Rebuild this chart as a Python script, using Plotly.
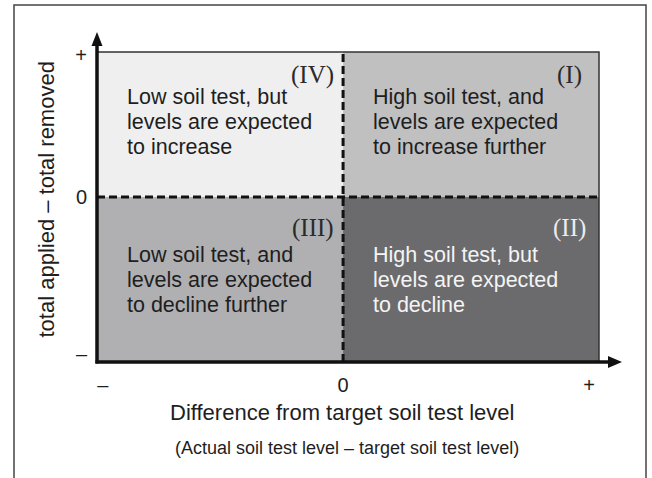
import plotly.graph_objects as go

# ---------------- data ----------------
x_edges = [-1.0, 0.0, 1.04]      # low end, target (0), high end of soil-test difference
y_edges = [-1.138, 0.0, 1.0]     # low end, balance (0), high end of applied - removed

quadrant_names = ["(IV)", "(I)", "(III)", "(II)"]
quadrant_cols = [0, 1, 0, 1]     # index into x_edges (left edge of the cell)
quadrant_rows = [1, 1, 0, 0]     # index into y_edges (bottom edge of the cell)
quadrant_fills = ["#efefef", "#c0c0c1", "#b0b0b2", "#6b6b6d"]
quadrant_text_colors = ["#1e1e1e", "#1e1e1e", "#1e1e1e", "#f4f4f4"]
quadrant_lines = [
    ["Low soil test, but", "levels are expected", "to increase"],
    ["High soil test, and", "levels are expected", "to increase further"],
    ["Low soil test, and", "levels are expected", "to decline further"],
    ["High soil test, but", "levels are expected", "to decline"],
]

x_tick_vals = [-0.976, 0.0, 1.0]
x_tick_text = ["\u2013", "0", "+"]
y_tick_vals = [-1.086, 0.0, 0.979]
y_tick_text = ["\u2013", "0", "+"]

x_title = "Difference from target soil test level"
x_subtitle = "(Actual soil test level \u2013 target soil test level)"
y_title = "total applied \u2013 total removed"

# ---------------- layout constants ----------------
W, H = 652, 478
ML, MR, MT, MB = 97, 53, 52, 116
PW, PH = W - ML - MR, H - MT - MB

def dx(px):  # pixel -> x domain fraction
    return (px - ML) / PW

def dy(py):  # pixel -> y domain fraction
    return (H - MB - py) / PH

SANS = "Liberation Sans, Arial, Helvetica, sans-serif"
SERIF = "Liberation Serif, Times New Roman, serif"

fig = go.Figure()
# invisible trace to establish the axes
fig.add_trace(go.Scatter(x=[x_edges[0], x_edges[-1]], y=[y_edges[0], y_edges[-1]],
                         mode="markers", marker=dict(opacity=0), hoverinfo="skip",
                         showlegend=False))

shapes = []
annotations = []

# quadrant cells
text_dx = 0.114
num_right = [-0.028, 0.98, -0.028, 0.996]
num_y = [0.841, 0.841, -0.214, -0.214]
line_ys = [[0.690, 0.517, 0.345], [0.690, 0.517, 0.345],
           [-0.400, -0.572, -0.745], [-0.400, -0.572, -0.745]]
for i, name in enumerate(quadrant_names):
    c, r = quadrant_cols[i], quadrant_rows[i]
    shapes.append(dict(type="rect", xref="x", yref="y",
                       x0=x_edges[c], x1=x_edges[c + 1],
                       y0=y_edges[r], y1=y_edges[r + 1],
                       fillcolor=quadrant_fills[i], line=dict(width=0), layer="below"))
    for ln, yy in zip(quadrant_lines[i], line_ys[i]):
        annotations.append(dict(x=x_edges[c] + text_dx, y=yy, xref="x", yref="y",
                                text=ln, showarrow=False, xanchor="left", yanchor="middle",
                                font=dict(family=SANS, size=21.5, color=quadrant_text_colors[i])))
    annotations.append(dict(x=num_right[i], y=num_y[i], xref="x", yref="y",
                            text=name, showarrow=False, xanchor="right", yanchor="middle",
                            font=dict(family=SERIF, size=25,
                                      color="#2a2a2a" if i < 3 else "#ececec")))

# thin top / right border of the box
shapes.append(dict(type="path", xref="x domain", yref="y domain",
                   path="M 0 1 L 1 1 L 1 0", line=dict(color="#333333", width=1.5)))

# dashed dividing lines
shapes.append(dict(type="line", xref="x", yref="y", x0=0, x1=0,
                   y0=y_edges[0], y1=y_edges[-1],
                   line=dict(color="#111111", width=3, dash="8px,4px")))
shapes.append(dict(type="line", xref="x", yref="y", y0=0, y1=0,
                   x0=x_edges[0], x1=x_edges[-1],
                   line=dict(color="#111111", width=3, dash="8px,4px")))

# axis shafts with arrow heads
shapes.append(dict(type="line", xref="x domain", yref="y domain",
                   x0=0, x1=0, y0=dy(363.5), y1=dy(42),
                   line=dict(color="#111111", width=3.5)))
shapes.append(dict(type="line", xref="x domain", yref="y domain",
                   x0=dx(95.5), x1=dx(612), y0=0, y1=0,
                   line=dict(color="#111111", width=3.5)))
shapes.append(dict(type="path", xref="x domain", yref="y domain",
                   path=f"M {dx(91.5)} {dy(46)} L {dx(97)} {dy(32)} L {dx(102.5)} {dy(46)} Z",
                   fillcolor="#111111", line=dict(width=0)))
shapes.append(dict(type="path", xref="x domain", yref="y domain",
                   path=f"M {dx(608)} {dy(356)} L {dx(622)} {dy(362)} L {dx(608)} {dy(368)} Z",
                   fillcolor="#111111", line=dict(width=0)))

# outer frame (open at the bottom)
shapes.append(dict(type="path", xref="x domain", yref="y domain",
                   path=f"M {dx(14)} {dy(490)} L {dx(14)} {dy(5)} L {dx(646)} {dy(5)} L {dx(646)} {dy(490)}",
                   line=dict(color="#444444", width=1.5)))

# titles
annotations.append(dict(x=dx(341.5), y=dy(412), xref="x domain", yref="y domain",
                        text=x_title, showarrow=False, xanchor="center", yanchor="middle",
                        font=dict(family=SANS, size=22, color="#1e1e1e")))
annotations.append(dict(x=dx(346.5), y=dy(448), xref="x domain", yref="y domain",
                        text=x_subtitle, showarrow=False, xanchor="center", yanchor="middle",
                        font=dict(family=SANS, size=18, color="#1e1e1e")))
annotations.append(dict(x=dx(45.5), y=dy(200), xref="x domain", yref="y domain",
                        text=y_title, showarrow=False, xanchor="center", yanchor="middle",
                        textangle=-90,
                        font=dict(family=SANS, size=22, color="#1e1e1e")))

fig.update_layout(
    width=W, height=H,
    margin=dict(l=ML, r=MR, t=MT, b=MB, pad=0),
    paper_bgcolor="white", plot_bgcolor="white",
    shapes=shapes, annotations=annotations, showlegend=False,
    xaxis=dict(range=[x_edges[0], x_edges[-1]], tickvals=x_tick_vals, ticktext=x_tick_text,
               showgrid=False, zeroline=False, showline=False, ticks="",
               ticklabelstandoff=9, fixedrange=True,
               tickfont=dict(family=SANS, size=20, color="#1e1e1e")),
    yaxis=dict(range=[y_edges[0], y_edges[-1]], tickvals=y_tick_vals, ticktext=y_tick_text,
               showgrid=False, zeroline=False, showline=False, ticks="",
               ticklabelstandoff=9, fixedrange=True,
               tickfont=dict(family=SANS, size=20, color="#1e1e1e")),
)

fig.write_html("out.html", config={"displayModeBar": False},
               post_script="document.body.style.margin='0px';")
